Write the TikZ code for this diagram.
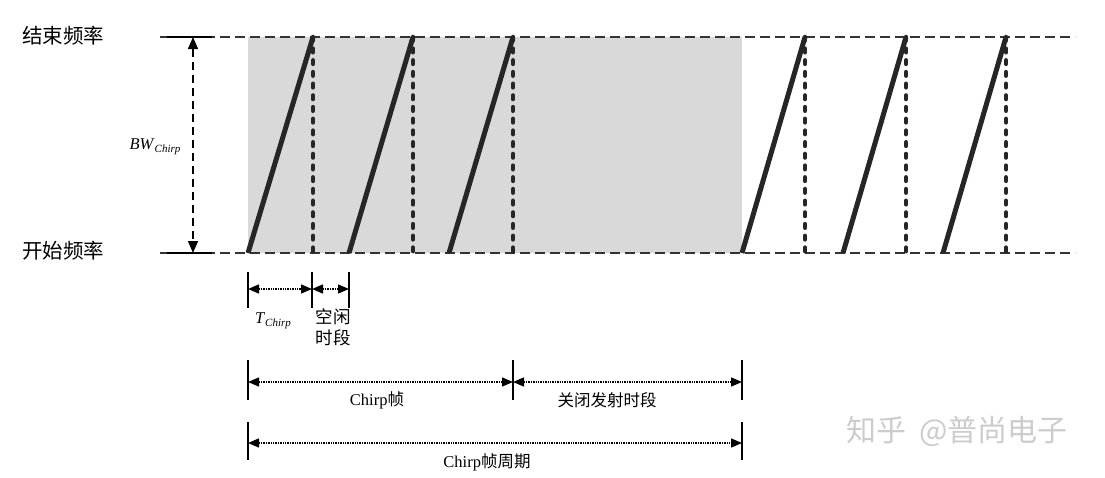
\documentclass[tikz,border=0pt]{standalone}
\usepackage{fontspec}
\setmainfont{Liberation Serif}
\newfontfamily\cjk{Noto Sans CJK SC}
\usetikzlibrary{arrows.meta}

\begin{document}
\begin{tikzpicture}[x=1pt, y=-1pt, every node/.style={inner sep=0pt},
  chirp/.style={line width=5pt, draw=black!85},
  idle/.style={line width=4.6pt, draw=black!85, line cap=round, dash pattern=on 3.5pt off 8.2pt},
  level/.style={line width=1.6pt, draw=black!80, dash pattern=on 10pt off 5pt},
  tick/.style={line width=1.4pt},
  span/.style={line width=1.4pt, densely dotted, {Triangle[length=11pt,width=9pt]}-{Triangle[length=11pt,width=9pt]}},
  lab/.style={font=\fontsize{16.5}{18}\selectfont}]
\useasboundingbox (0,0) rectangle (1105,477);

% Chirp frame background
\fill[black!15] (248,37) rectangle (742,253);

% Start and stop frequency levels
\coordinate (hiL) at (160,37); \coordinate (hiR) at (1075,37);
\coordinate (loL) at (160,253); \coordinate (loR) at (1075,253);
\draw[level] (hiL) -- (hiR);
\draw[level] (loL) -- (loR);
\coordinate (hiA) at (167,37); \coordinate (hiB) at (212,37);
\coordinate (loA) at (167,253); \coordinate (loB) at (212,253);
\draw[line width=1.6pt] (hiA) -- (hiB) (loA) -- (loB);

\node[anchor=west, font=\cjk\fontsize{20.5}{22}\selectfont] (fend) at (22,36) {结束频率};
\node[anchor=west, font=\cjk\fontsize{20.5}{22}\selectfont] (fstart) at (22,251) {开始频率};

% Bandwidth
\coordinate (bwT) at (193,37); \coordinate (bwB) at (193,253);
\draw[line width=1.4pt, dash pattern=on 8pt off 5pt, {Triangle[length=12pt,width=10pt]}-{Triangle[length=12pt,width=10pt]}] (bwT) -- (bwB);
\node (bw) at (155,147) {\fontsize{16.5}{18}\selectfont\textit{BW}\raisebox{-3pt}{\fontsize{11}{12}\selectfont\textit{Chirp}}};

% Chirps and idle times
\foreach \s/\e [count=\i] in {248/313, 349/413, 449/513, 742/805, 843/906, 943/1006} {
  \coordinate (st\i) at (\s,253);
  \coordinate (en\i) at (\e,37);
  \coordinate (ib\i) at (\e,253);
  \draw[idle] (en\i) -- (ib\i);
  \draw[chirp] (st\i) -- (en\i);
}

% T_Chirp and idle time
\coordinate (k1t) at (248,272); \coordinate (k1b) at (248,308);
\coordinate (k2t) at (312,272); \coordinate (k2b) at (312,308);
\coordinate (k3t) at (349,272); \coordinate (k3b) at (349,308);
\draw[tick] (k1t) -- (k1b) (k2t) -- (k2b) (k3t) -- (k3b);
\coordinate (a1) at (248,289); \coordinate (a2) at (312,289); \coordinate (a3) at (349,289);
\draw[span] (a1) -- (a2);
\draw[span] (a2) -- (a3);
\node (tchirp) at (273,321) {\fontsize{16.5}{18}\selectfont\textit{T}\raisebox{-3pt}{\fontsize{11}{12}\selectfont\textit{Chirp}}};
\node[font=\cjk\fontsize{17.5}{21}\selectfont, align=center] (idle) at (333,327) {空闲\\时段};

% Chirp frame and off time
\coordinate (m1t) at (248,360); \coordinate (m1b) at (248,400);
\coordinate (m2t) at (513,360); \coordinate (m2b) at (513,400);
\coordinate (m3t) at (742,360); \coordinate (m3b) at (742,400);
\draw[tick] (m1t) -- (m1b) (m2t) -- (m2b) (m3t) -- (m3b);
\coordinate (b1) at (248,382); \coordinate (b2) at (513,382); \coordinate (b3) at (742,382);
\draw[span] (b1) -- (b2);
\draw[span] (b2) -- (b3);
\node[lab] (frame) at (377,400) {Chirp{\cjk 帧}};
\node[lab] (off) at (607,400) {\cjk 关闭发射时段};

% Chirp frame period
\coordinate (p1t) at (248,422); \coordinate (p1b) at (248,460);
\coordinate (p2t) at (742,422); \coordinate (p2b) at (742,460);
\draw[tick] (p1t) -- (p1b) (p2t) -- (p2b);
\coordinate (c1) at (248,443); \coordinate (c2) at (742,443);
\draw[span] (c1) -- (c2);
\node[lab] (period) at (487,462) {Chirp{\cjk 帧周期}};

\node[font=\cjk\fontsize{30}{32}\selectfont, text=black!20] (mark) at (957,431) {知乎\ \ @普尚电子};
\end{tikzpicture}
\end{document}
